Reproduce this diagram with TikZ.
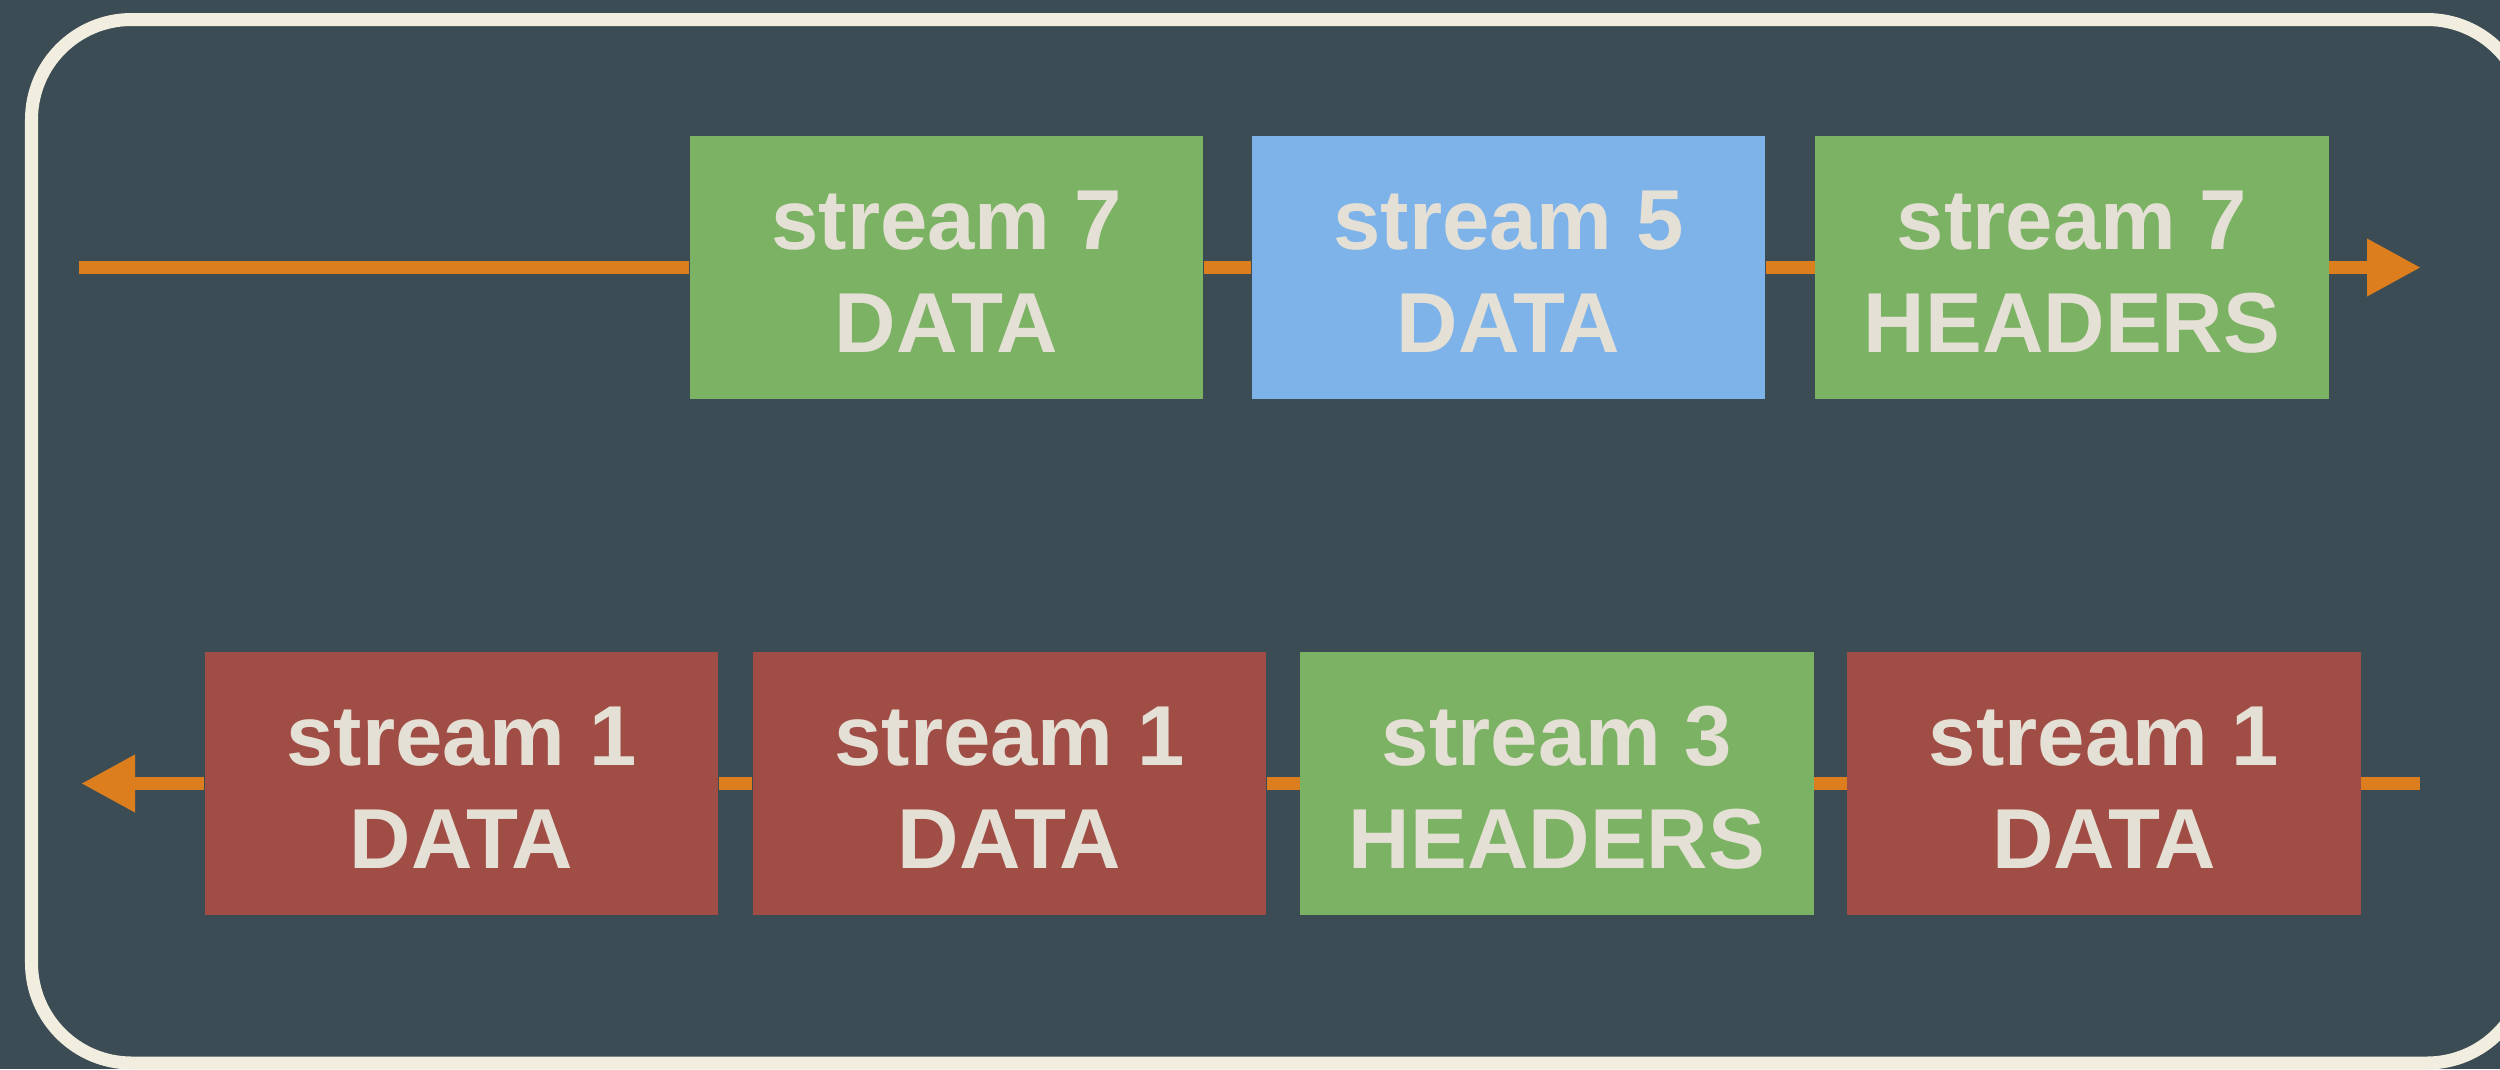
\documentclass[tikz,border=0pt]{standalone}
\usepackage{fontspec}
\setmainfont{Liberation Sans}
\usetikzlibrary{arrows.meta}

\definecolor{bgslate}{HTML}{3C4C55}
\definecolor{frameivory}{HTML}{F1EEDF}
\definecolor{wireorange}{HTML}{DC7D1E}
\definecolor{framegreen}{HTML}{7BB263}
\definecolor{frameblue}{HTML}{7EB3E9}
\definecolor{framered}{HTML}{A04D46}
\definecolor{labelcream}{HTML}{E5E0D5}

\tikzset{
  frame/.style={rectangle, inner sep=0pt, minimum width=5.13cm, minimum height=2.63cm,
    align=center, text=labelcream, text height=48.2pt, text depth=0pt,
    font=\fontsize{24.2}{29.3}\selectfont\bfseries},
  greenframe/.style={frame, fill=framegreen},
  blueframe/.style={frame, fill=frameblue},
  redframe/.style={frame, fill=framered},
  wire/.style={draw=wireorange, line width=0.13cm},
  wirehead/.style={wire, -{Triangle[length=0.54cm, width=0.54cm]}}
}

\begin{document}
\begin{tikzpicture}[x=0.01cm, y=-0.01cm]
  % canvas
  \useasboundingbox (0,0) rectangle (2500,1069);
  \fill[bgslate] (0,0) rectangle (2500,1069);
  \clip (0,0) rectangle (2500,1069);

  % connection outline
  \draw[frameivory, line width=0.13cm, rounded corners=1cm]
    (31.5,19.5) rectangle (2527,1063);

  % outgoing frames (top row)
  \node[greenframe] (o1) at (946.5,267.5) {stream 7\\DATA};
  \node[blueframe]  (o2) at (1508.5,267.5) {stream 5\\DATA};
  \node[greenframe] (o3) at (2072,267.5) {stream 7\\HEADERS};

  \coordinate (ostart) at (79,267.5);
  \coordinate (oend) at (2421,267.5);

  \draw[wire] (ostart) -- (o1.west);
  \draw[wire] (o1.east) -- (o2.west);
  \draw[wire] (o2.east) -- (o3.west);
  \draw[wirehead] (o3.east) -- (oend);

  % incoming frames (bottom row)
  \node[redframe]   (i1) at (461.5,783.5) {stream 1\\DATA};
  \node[redframe]   (i2) at (1009.5,783.5) {stream 1\\DATA};
  \node[greenframe] (i3) at (1557,783.5) {stream 3\\HEADERS};
  \node[redframe]   (i4) at (2104,783.5) {stream 1\\DATA};

  \coordinate (istart) at (2420,783.5);
  \coordinate (iend) at (81,783.5);

  \draw[wire] (istart) -- (i4.east);
  \draw[wire] (i4.west) -- (i3.east);
  \draw[wire] (i3.west) -- (i2.east);
  \draw[wire] (i2.west) -- (i1.east);
  \draw[wirehead] (i1.west) -- (iend);
\end{tikzpicture}
\end{document}
